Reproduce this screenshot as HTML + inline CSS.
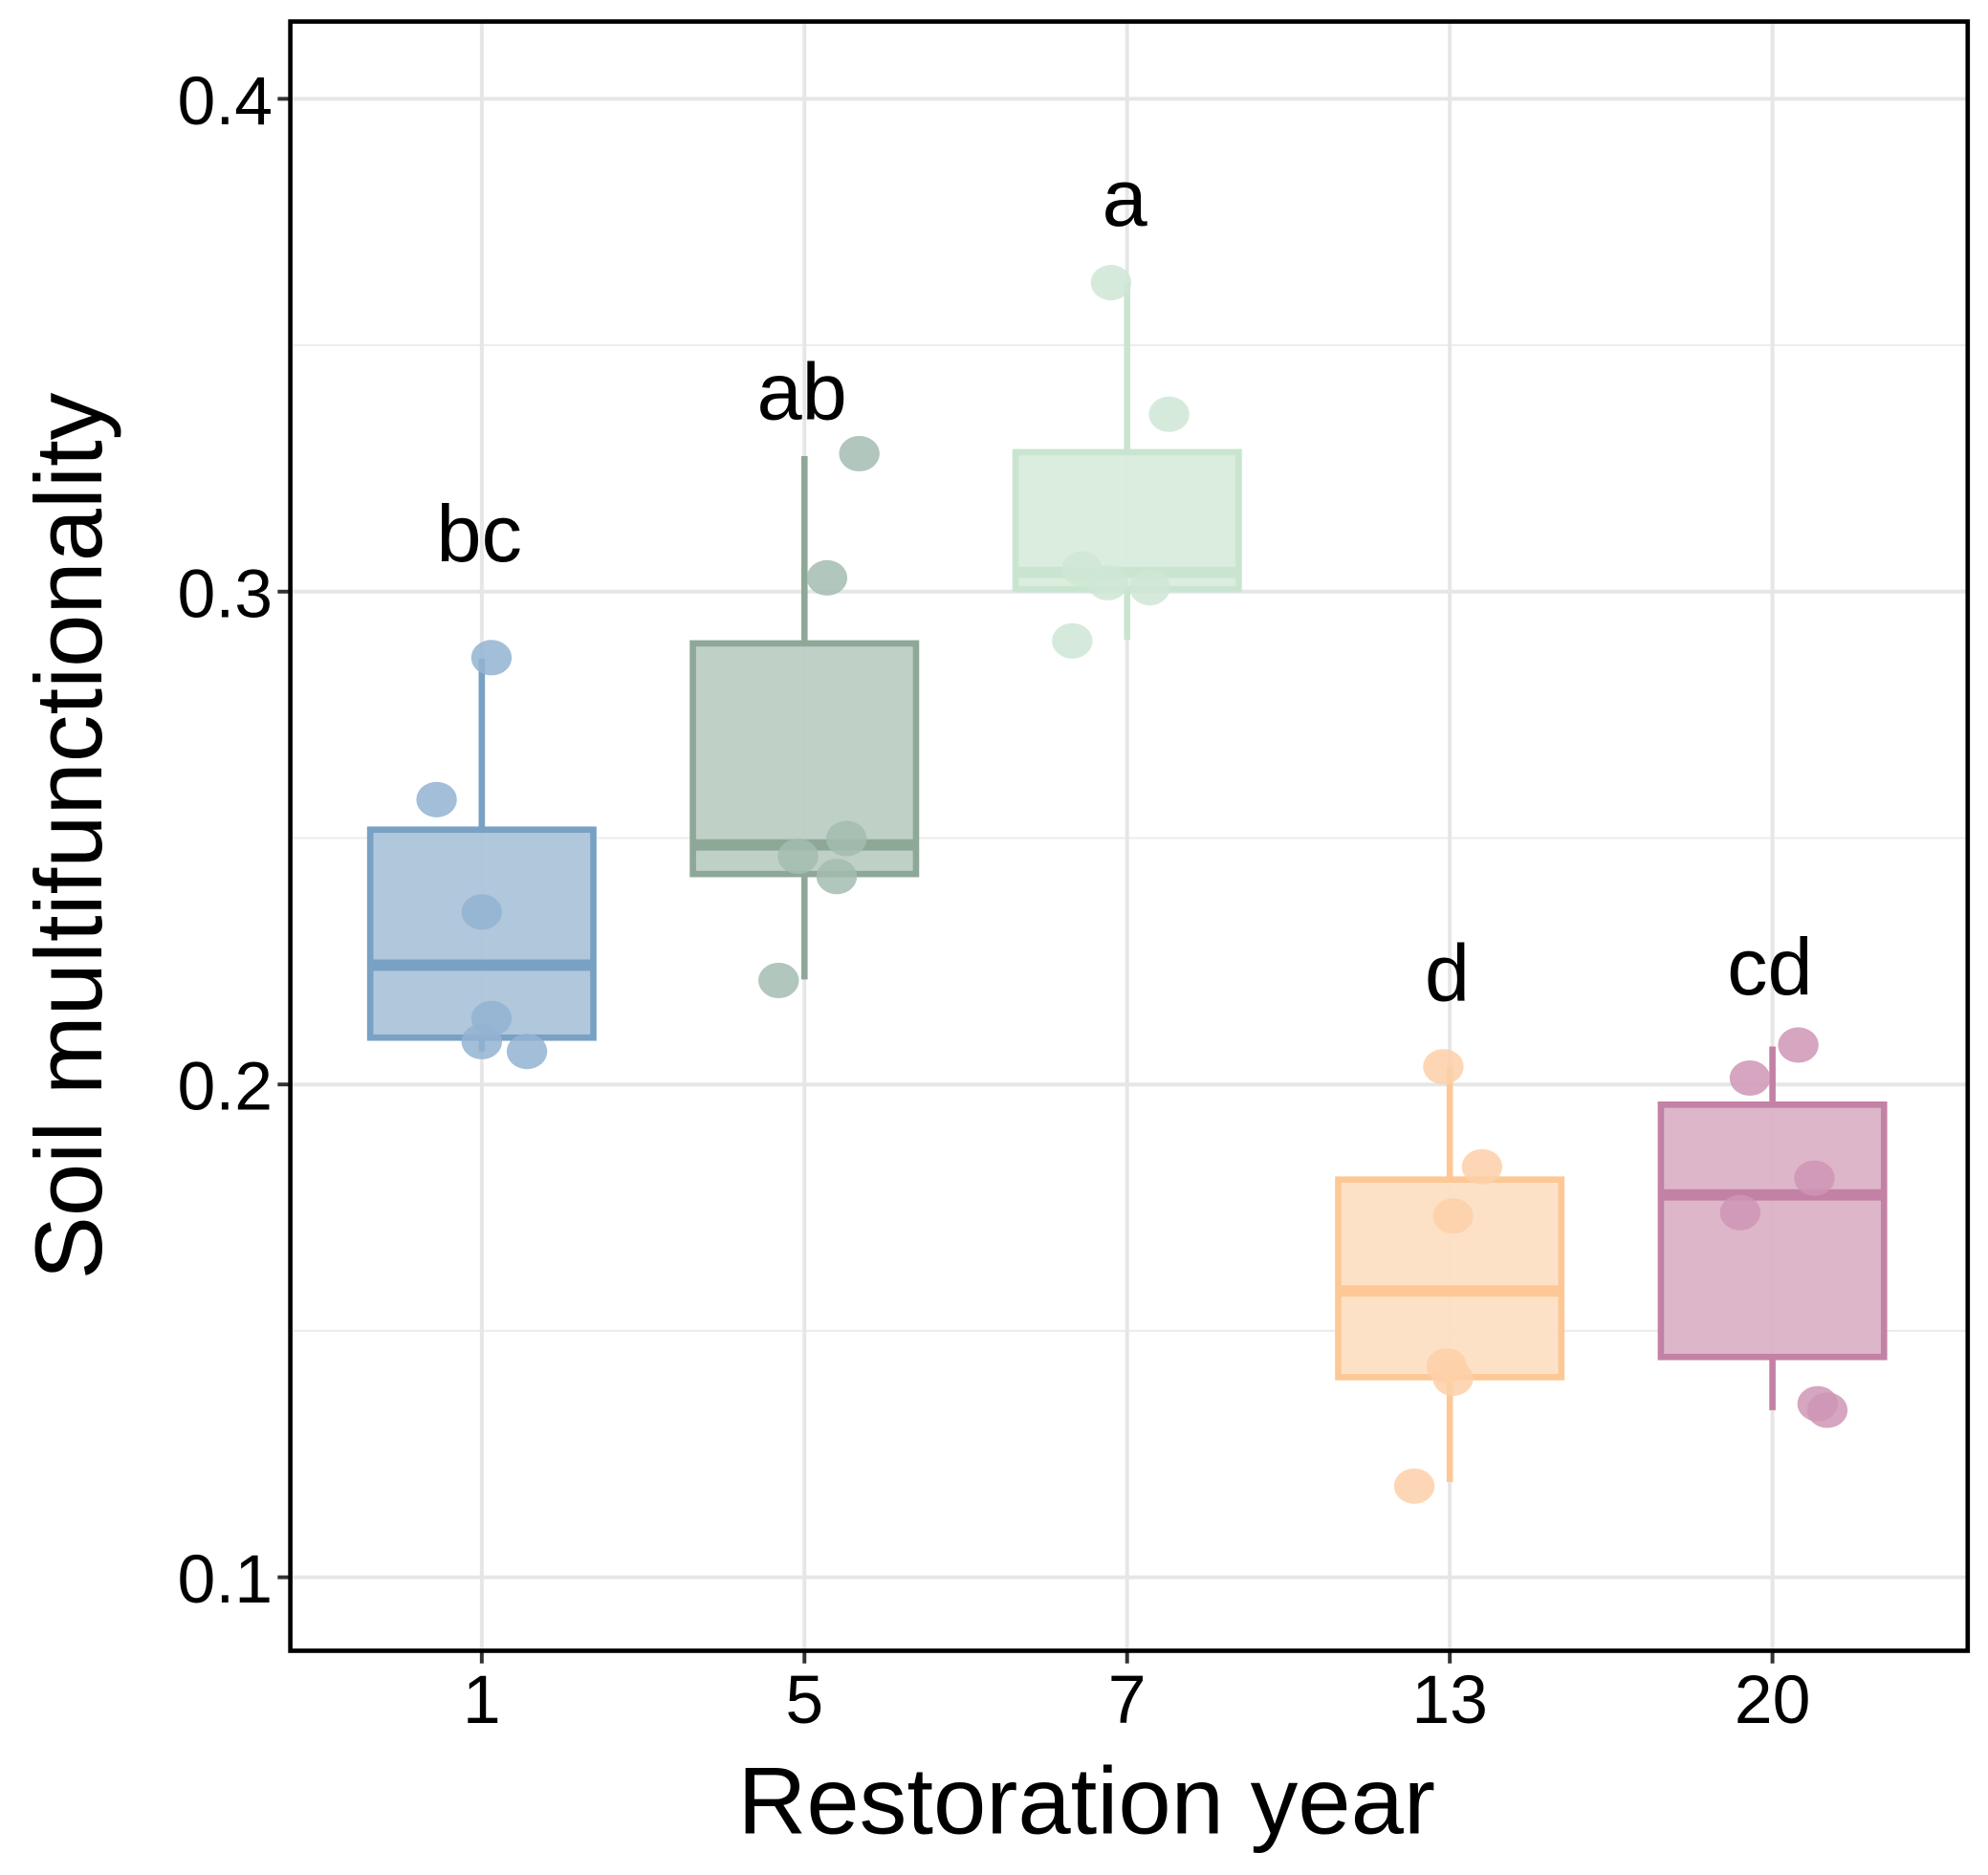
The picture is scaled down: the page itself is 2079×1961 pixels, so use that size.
<!DOCTYPE html>
<html><head><meta charset="utf-8"><style>
html,body{margin:0;padding:0;background:#fff}
svg{display:block}
text{font-family:"Liberation Sans",Arial,sans-serif}
</style></head><body>
<svg id="chart" width="2079" height="1961" viewBox="0 0 1568 1480" preserveAspectRatio="none" xmlns="http://www.w3.org/2000/svg"></svg>
<script>
const categories=["1","5","7","13","20"];
const q1=[0.2095,0.2427,0.3005,0.1406,0.1447];
const medians=[0.2242,0.2486,0.3039,0.1581,0.1776];
const q3=[0.2517,0.2895,0.3283,0.1807,0.1959];
const whiskerLow=[0.2067,0.2213,0.2902,0.1193,0.1339];
const whiskerHigh=[0.2864,0.3275,0.3627,0.2036,0.2077];
const pointValues=[[0.2578,0.2866,0.2350,0.2134,0.2087,0.2067],[0.3280,0.3028,0.2499,0.2463,0.2422,0.2211],[0.3627,0.3360,0.3046,0.3018,0.3008,0.2900],[0.2036,0.1833,0.1733,0.1429,0.1404,0.1185],[0.2080,0.2013,0.1810,0.1740,0.1352,0.1339]];
const pointJitter=[[-0.14,0.03,0,0.03,0,0.14],[0.17,0.07,0.13,-0.02,0.1,-0.08],[-0.05,0.13,-0.14,-0.06,0.07,-0.17],[-0.02,0.1,0.01,-0.01,0.01,-0.11],[0.08,-0.07,0.13,-0.1,0.14,0.17]];
const letters=["bc","ab","a","d","cd"];
const letterValues=[0.3062,0.3350,0.3743,0.2170,0.2183];
const yTicks=[0.1,0.2,0.3,0.4];
const yMinor=[0.15,0.25,0.35];
const fills=["#adc4da","#bccdc4","#d9ecdd","#fddfc4","#dbb2c6"];
const strokes=["#78a1c4","#8ea898","#c9e5d0","#fdc896","#c381a5"];
const dots=["#93b3d2","#a3bcb0","#cfe6d5","#fdd0a8","#cf95b5"];
const svg=document.getElementById('chart');
const NS="http://www.w3.org/2000/svg";
const L=229,R=1552,T=17,B=1303;
const y=v=>78+(0.4-v)*3890;
const x=i=>380+i*254.5;
function mk(tag,attrs,parent){const e=document.createElementNS(NS,tag);for(const k in attrs)e.setAttribute(k,attrs[k]);(parent||svg).appendChild(e);return e;}
yMinor.forEach(v=>{const g=mk('line',{x1:L,x2:R,y1:y(v),y2:y(v),stroke:'#ececec','stroke-width':1.5});

});
yTicks.forEach(v=>{const g=mk('line',{x1:L,x2:R,y1:y(v),y2:y(v),stroke:'#e6e6e6','stroke-width':3});

});
categories.forEach((c,i)=>{const g=mk('line',{x1:x(i),x2:x(i),y1:T,y2:B,stroke:'#e6e6e6','stroke-width':3});

});
const hw=88;
categories.forEach((c,i)=>{
 const grp=mk('g',{});
 
 
 const w1=mk('line',{x1:x(i),x2:x(i),y1:y(whiskerHigh[i]),y2:y(q3[i]),stroke:strokes[i],'stroke-width':5},grp);
 
 
 const w2=mk('line',{x1:x(i),x2:x(i),y1:y(q1[i]),y2:y(whiskerLow[i]),stroke:strokes[i],'stroke-width':5},grp);
 
 
 const r=mk('rect',{x:x(i)-hw,y:y(q3[i]),width:2*hw,height:y(q1[i])-y(q3[i]),fill:fills[i],'fill-opacity':0.95,stroke:strokes[i],'stroke-width':5},grp);
 
 
 const m=mk('line',{x1:x(i)-hw,x2:x(i)+hw,y1:y(medians[i]),y2:y(medians[i]),stroke:strokes[i],'stroke-width':9},grp);
 
 
 pointValues[i].forEach((v,j)=>{
  const p=mk('ellipse',{cx:x(i)+pointJitter[i][j]*254.5,cy:y(v),rx:16,ry:14,fill:dots[i],'fill-opacity':0.85},grp);
  
  
 });
 const t=mk('text',{x:x(i)-2,y:y(letterValues[i]),'font-size':64,'text-anchor':'middle',fill:'#000'},grp);
 t.textContent=letters[i];
 
 
 const tk=mk('line',{x1:x(i),x2:x(i),y1:B,y2:B+10,stroke:'#333','stroke-width':3});
 
 
 const xl=mk('text',{x:x(i),y:B+57,'font-size':54,'text-anchor':'middle',fill:'#000'});
 xl.textContent=c;
 
 
});
yTicks.forEach(v=>{
 const tk=mk('line',{x1:L-10,x2:L,y1:y(v),y2:y(v),stroke:'#333','stroke-width':3});
 
 
 const t=mk('text',{x:L-14,y:y(v)+20,'font-size':54,'text-anchor':'end',fill:'#000'});
 t.textContent=v.toFixed(1);
 
 
});
const frame=mk('rect',{x:L,y:T,width:R-L,height:B-T,fill:'none',stroke:'#000','stroke-width':3.5});


const xt=mk('text',{x:857,y:1447,'font-size':75,'text-anchor':'middle',fill:'#000'});
xt.textContent='Restoration year';


const yt=mk('text',{x:0,y:0,'font-size':75,'text-anchor':'middle',fill:'#000',transform:'translate(80,660) rotate(-90)'});
yt.textContent='Soil multifunctionality';


</script>
</body></html>
